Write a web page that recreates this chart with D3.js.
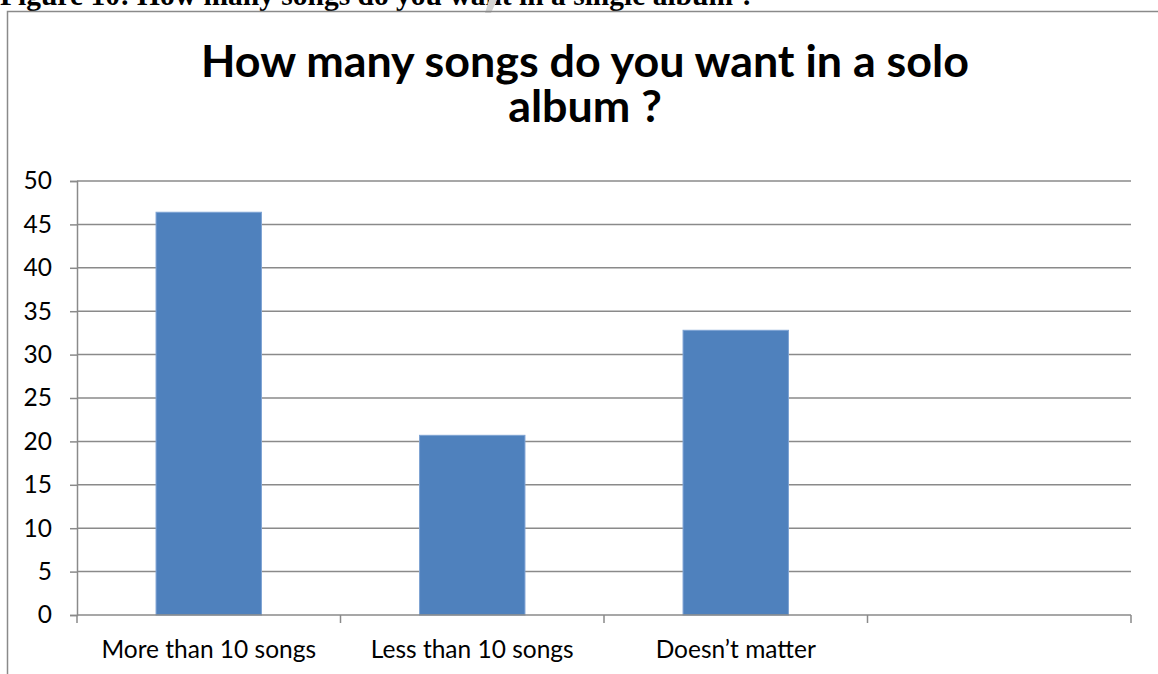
<!DOCTYPE html>
<html>
<head>
<meta charset="utf-8">
<script src="https://cdn.jsdelivr.net/npm/d3@7"></script>
<style>
  html, body { margin: 0; padding: 0; background: #fff; overflow: hidden; }
  svg { display: block; }
</style>
</head>
<body>
<svg id="chart" width="1158" height="674"></svg>
<script>
// Survey answers: preferred number of songs in a solo album
const categories = ["More than 10 songs", "Less than 10 songs", "Doesn\u2019t matter", ""];
const values = [46.4, 20.7, 32.8, null];
const yTicks = [0, 5, 10, 15, 20, 25, 30, 35, 40, 45, 50];
const captionText = "Figure 10: How many songs do you want in a single album ?";
const titleLines = ["How many songs do you want in a solo", "album ?"];

const W = 1158, H = 674;
const margin = { left: 77, right: 27, top: 181, bottom: 59 };
const svg = d3.select("#chart");
const sans = "Lato, Carlito, Calibri, sans-serif";

const x = d3.scaleBand().domain(d3.range(categories.length)).range([margin.left, W - margin.right]).paddingInner(0).paddingOuter(0);
const y = d3.scaleLinear().domain([0, 50]).range([H - margin.bottom, margin.top]);

const gridColor = "#8a8a8a";

// scale a text's font size so that it spans the given width
function fitWidth(sel, target) {
  const fs = +sel.attr("font-size");
  const len = sel.node().getComputedTextLength();
  if (len > 0) sel.attr("font-size", (fs * target / len).toFixed(2));
}

// document caption above the chart frame (clipped by the page top)
const caption = svg.append("text")
  .attr("x", 0).attr("y", 5)
  .attr("font-family", "Liberation Serif, Times New Roman, serif")
  .attr("font-weight", "bold")
  .attr("font-size", 24)
  .attr("fill", "#000")
  .text(captionText);
fitWidth(caption, 755);

// faint document mark near the caption
svg.append("path")
  .attr("d", "M489,0 L497,0 L491,13 L485,13 Z")
  .attr("fill", "#d4d4d4");

// chart frame
svg.append("path")
  .attr("d", `M7.5,${H} L7.5,11.5 L${W},11.5`)
  .attr("fill", "none")
  .attr("stroke", gridColor)
  .attr("stroke-width", 1.5);

// chart title, two lines
const titleBase = [77, 122];
titleLines.forEach((t, i) => {
  const line = svg.append("text")
    .attr("x", 585).attr("y", titleBase[i])
    .attr("text-anchor", "middle")
    .attr("font-family", sans)
    .attr("font-weight", "bold")
    .attr("font-size", 32)
    .attr("fill", "#000")
    .text(t);
  if (i === 0) fitWidth(line, 768);
  else line.attr("font-size", svg.select("text:nth-of-type(2)").attr("font-size"));
});

// horizontal gridlines
svg.append("g")
  .selectAll("line")
  .data(yTicks.filter(d => d > 0))
  .join("line")
  .attr("x1", margin.left).attr("x2", W - margin.right)
  .attr("y1", d => y(d)).attr("y2", d => y(d))
  .attr("stroke", gridColor).attr("stroke-width", 1.5);

// bars
const step = x.step();
svg.append("g")
  .selectAll("rect")
  .data(values.map((v, i) => ({ v, i })).filter(d => d.v != null))
  .join("rect")
  .attr("x", d => x(d.i) + step * 0.3)
  .attr("width", step * 0.4)
  .attr("y", d => y(d.v))
  .attr("height", d => y(0) - y(d.v))
  .attr("fill", "#4f81bd")
  .attr("stroke", "#7ea3d3")
  .attr("stroke-width", 1);

// y axis
const labelSize = 24.5;
const yAxis = svg.append("g")
  .attr("transform", `translate(${margin.left},0)`)
  .call(d3.axisLeft(y).tickValues(yTicks).tickSize(7).tickPadding(18).tickFormat(d3.format("d")));
yAxis.select(".domain").attr("stroke", gridColor).attr("stroke-width", 1.5);
yAxis.selectAll(".tick line").attr("stroke", gridColor).attr("stroke-width", 1.5);
yAxis.selectAll(".tick text")
  .attr("font-family", sans)
  .attr("font-size", labelSize).attr("fill", "#000");

// x axis with boundary ticks between categories
const xAxisG = svg.append("g").attr("transform", `translate(0,${y(0)})`);
xAxisG.append("line")
  .attr("x1", margin.left).attr("x2", W - margin.right)
  .attr("stroke", gridColor).attr("stroke-width", 1.5);
const edges = d3.range(categories.length + 1).map(i => margin.left + i * step);
xAxisG.selectAll("line.edge")
  .data(edges)
  .join("line")
  .attr("class", "edge")
  .attr("x1", d => d).attr("x2", d => d)
  .attr("y1", 0).attr("y2", 8)
  .attr("stroke", gridColor).attr("stroke-width", 1.5);
xAxisG.selectAll("text")
  .data(categories)
  .join("text")
  .attr("x", (d, i) => x(i) + step / 2)
  .attr("y", 43)
  .attr("text-anchor", "middle")
  .attr("font-family", sans)
  .attr("font-size", labelSize)
  .attr("fill", "#000")
  .text(d => d);
</script>
</body>
</html>
